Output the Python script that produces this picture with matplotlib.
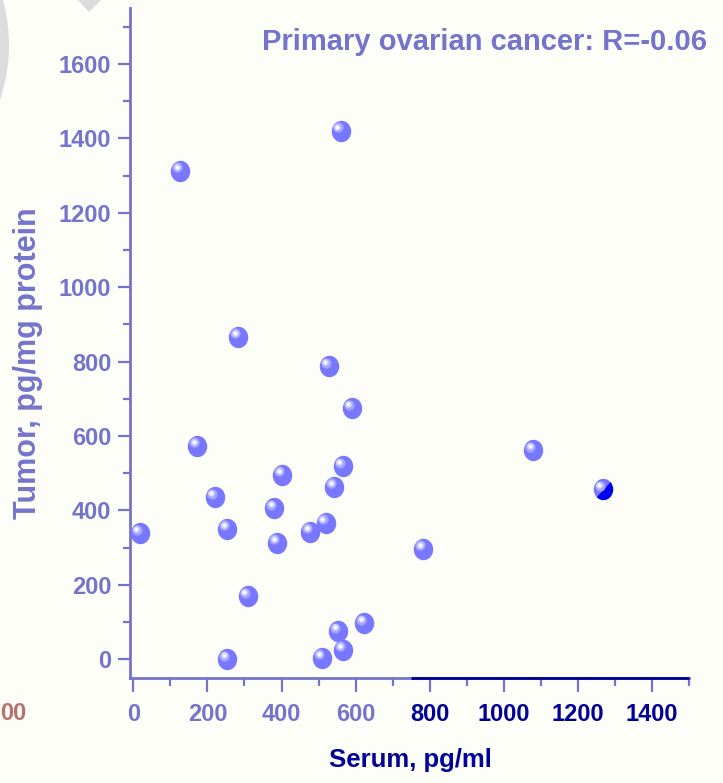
import matplotlib
matplotlib.use("Agg")
import matplotlib.pyplot as plt
from matplotlib.transforms import offset_copy, Affine2D
from matplotlib.markers import MarkerStyle
from matplotlib.patches import Ellipse, Polygon

# ---- data ----
serum = [560, 126, 283, 528, 590, 172, 565, 402, 542, 220, 380, 17, 253,
         520, 477, 389, 783, 309, 624, 553, 567, 510, 253, 1079]
tumor = [1420, 1313, 866, 787, 674, 573, 519, 495, 463, 435, 406, 339, 351,
         366, 343, 313, 297, 169, 97, 75, 25, 3, 0, 562]
hi_serum = [1267]
hi_tumor = [456]
x_ticks = [0, 200, 400, 600, 800, 1000, 1200, 1400]
y_ticks = [0, 200, 400, 600, 800, 1000, 1200, 1400, 1600]
title = "Primary ovarian cancer: R=-0.06"
xlabel = "Serum, pg/ml"
ylabel = "Tumor, pg/mg protein"

LAV = "#7474CC"
DARK = "#000099"
BG = "#FEFEF8"
BALL = "#7777FF"

plt.rcParams['font.family'] = ['Liberation Sans', 'DejaVu Sans']
plt.rcParams['font.weight'] = 'bold'

W, H = 723, 783
fig = plt.figure(figsize=(W / 100, H / 100), dpi=100, facecolor=BG)

def fx(px):
    return px / W
def fy(py):
    return 1 - py / H

# background decorations
fig.add_artist(Ellipse((fx(-163), fy(45)), 2 * 172 / W, 2 * 172 / H,
                       transform=fig.transFigure, color="#DCDCDA", lw=0, zorder=0))
fig.add_artist(Polygon([(fx(76), fy(-2)), (fx(103), fy(-2)), (fx(89), fy(12))],
                       closed=True, transform=fig.transFigure, color="#DCDCDA",
                       lw=0, zorder=0))
fig.text(fx(0), fy(713), "00", color="#B87070", fontsize=17, fontweight='bold',
         ha='left', va='center')

ax = fig.add_axes([fx(130), fy(677.7), fx(689) - fx(130), fy(8.2) - fy(677.7)])
ax.set_facecolor('none')
ax.set_xlim(-9, 1500)
ax.set_ylim(-50, 1750)

for s in ['top', 'right']:
    ax.spines[s].set_visible(False)
for s in ['left', 'bottom']:
    ax.spines[s].set_color(LAV)
    ax.spines[s].set_linewidth(2)
ax.plot([750, 1500], [-50, -50], color=DARK, lw=2, clip_on=False, zorder=5,
        solid_capstyle='butt')

ax.set_xticks(x_ticks)
ax.set_yticks(y_ticks)
ax.set_xticks([t + 100 for t in x_ticks], minor=True)
ax.set_yticks([t + 100 for t in y_ticks], minor=True)
ax.tick_params(axis='y', which='major', direction='out', length=8.5, width=1.6, color=LAV,
               labelsize=17, labelcolor=LAV, pad=5)
ax.tick_params(axis='x', which='major', direction='out', length=10, width=1.6, color=LAV,
               labelsize=17, labelcolor=LAV, pad=8)
ax.tick_params(axis='y', which='minor', direction='out', length=5, width=1.6, color=LAV)
ax.tick_params(axis='x', which='minor', direction='out', length=6, width=1.6, color=LAV)
for lbl in ax.get_yticklabels():
    lbl.set_fontweight('bold')
for tick, val in zip(ax.xaxis.get_major_ticks(), x_ticks):
    tick.label1.set_fontweight('bold')
    if val >= 800:
        tick.tick1line.set_color(DARK)
        tick.label1.set_color(DARK)
for tick, val in zip(ax.xaxis.get_minor_ticks(), [t + 100 for t in x_ticks]):
    if val >= 800:
        tick.tick1line.set_color(DARK)

# spherical markers
ball = MarkerStyle('o', transform=Affine2D().scale(1.0, 1.1))
msz = 14
tr_hi = offset_copy(ax.transData, fig=fig, x=-3, y=3.5, units='dots')
tr_hi2 = offset_copy(ax.transData, fig=fig, x=-3.5, y=4, units='dots')
ax.plot(serum, tumor, linestyle='none', marker=ball, markersize=msz,
        markerfacecolor=BALL, markeredgewidth=0, zorder=3, clip_on=False)
ax.scatter(serum, tumor, s=55, color="#A4A4FF", lw=0, zorder=4, transform=tr_hi, clip_on=False)
ax.scatter(serum, tumor, s=24, color="#D0D0FF", lw=0, zorder=5, transform=tr_hi2, clip_on=False)
ax.scatter(serum, tumor, s=7, color="#FAFAFF", lw=0, zorder=6, transform=tr_hi2, clip_on=False)

mk = MarkerStyle('o', fillstyle='left',
                 transform=Affine2D().rotate_deg(-45).scale(1.0, 1.1))
ax.plot(hi_serum, hi_tumor, linestyle='none', marker=mk, markersize=msz,
        markerfacecolor=BALL, markerfacecoloralt="#0000EE", markeredgewidth=0, zorder=3)
ax.scatter(hi_serum, hi_tumor, s=55, color="#A4A4FF", lw=0, zorder=4, transform=tr_hi)
ax.scatter(hi_serum, hi_tumor, s=24, color="#D0D0FF", lw=0, zorder=5, transform=tr_hi2)
ax.scatter(hi_serum, hi_tumor, s=7, color="#FAFAFF", lw=0, zorder=6, transform=tr_hi2)

fig.text(fx(707), fy(42), title, color=LAV, fontsize=21, fontweight='bold',
         ha='right', va='center')
fig.text(fx(410), fy(760), xlabel, color=DARK, fontsize=18.5, fontweight='bold',
         ha='center', va='center')
fig.text(fx(28), fy(363), ylabel, color=LAV, fontsize=22, fontweight='bold',
         ha='center', va='center', rotation=90)

fig.savefig("out.png", dpi=100, facecolor=BG)
